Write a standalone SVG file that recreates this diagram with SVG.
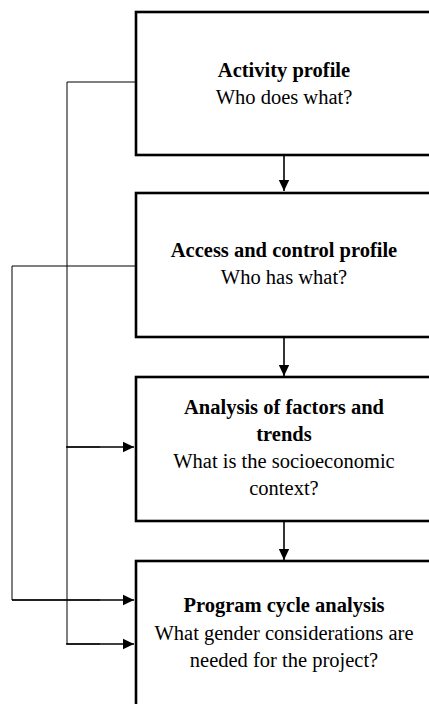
<svg xmlns="http://www.w3.org/2000/svg" width="429" height="704" viewBox="0 0 429 704">
<style>
.box{fill:#fff;stroke:#000;stroke-width:2.6}
.t{font-family:"Liberation Serif","Times New Roman",serif;font-size:20.5px;fill:#000;text-anchor:middle}
.b{font-weight:bold}
.c{fill:none;stroke:#000;stroke-width:1}
.a{fill:none;stroke:#000;stroke-width:1.6}
</style>
<defs>
<marker id="ah" markerUnits="userSpaceOnUse" markerWidth="12" markerHeight="12" viewBox="0 0 12 12" refX="11" refY="6" orient="auto">
<path d="M0,0.8 L11,6 L0,11.2 Z" fill="#000"/>
</marker>
</defs>
<rect width="429" height="704" fill="#fff"/>
<g id="connectors">
<path class="c" d="M135,82 H67 V644 H100"/>
<path class="c" d="M67,447 H100"/>
<path class="c" d="M135,266 H12 V600 H100"/>
<path class="a" d="M66,447 H134" marker-end="url(#ah)"/>
<path class="a" d="M12,600 H134" marker-end="url(#ah)"/>
<path class="a" d="M66,644 H134" marker-end="url(#ah)"/>
<path class="a" d="M284,156 V191" marker-end="url(#ah)"/>
<path class="a" d="M284,338 V376" marker-end="url(#ah)"/>
<path class="a" d="M284,522 V560" marker-end="url(#ah)"/>
</g>
<g id="activity-profile">
<rect class="box" x="136" y="12" width="300" height="143"/>
<text class="t b" x="284" y="77">Activity profile</text>
<text class="t" x="284" y="104">Who does what?</text>
</g>
<g id="access-control-profile">
<rect class="box" x="136" y="193" width="300" height="144"/>
<text class="t b" x="284" y="257">Access and control profile</text>
<text class="t" x="284" y="284">Who has what?</text>
</g>
<g id="factors-trends">
<rect class="box" x="136" y="377" width="300" height="144"/>
<text class="t b" x="284" y="414">Analysis of factors and</text>
<text class="t b" x="284" y="441">trends</text>
<text class="t" x="284" y="468">What is the socioeconomic</text>
<text class="t" x="284" y="495">context?</text>
</g>
<g id="program-cycle">
<rect class="box" x="136" y="561" width="300" height="160"/>
<text class="t b" x="284" y="612">Program cycle analysis</text>
<text class="t" x="284" y="640">What gender considerations are</text>
<text class="t" x="284" y="667">needed for the project?</text>
</g>
</svg>
